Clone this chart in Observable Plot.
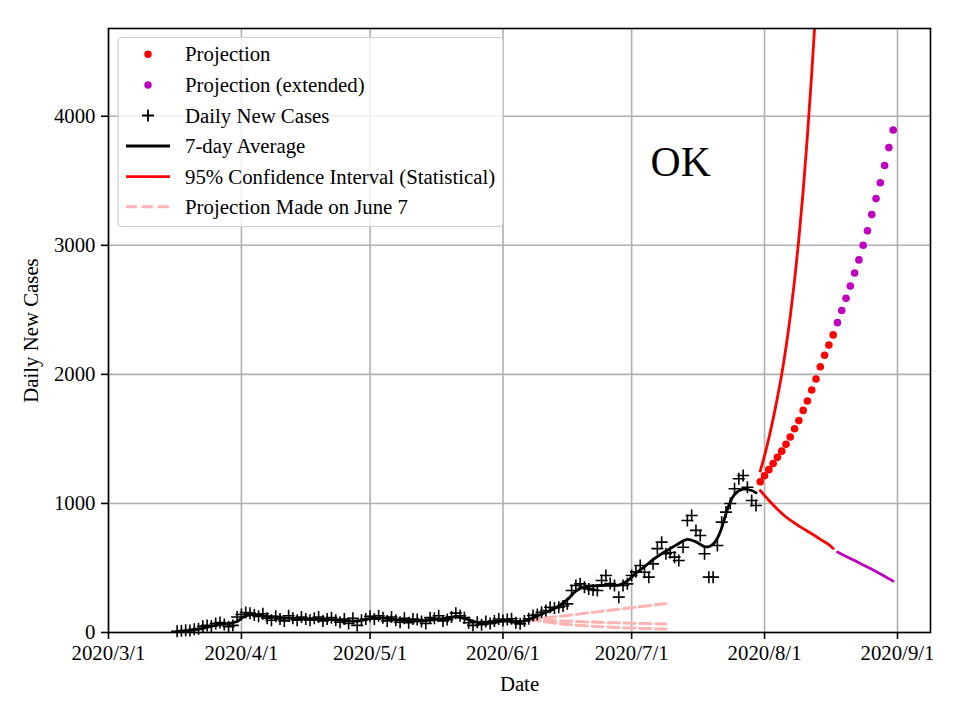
<!DOCTYPE html>
<html><head><meta charset="utf-8">
<script src="https://cdn.jsdelivr.net/npm/d3@7"></script>
<script src="https://cdn.jsdelivr.net/npm/@observablehq/plot@0.6"></script>
<style>body{margin:0;background:#fff} svg{display:block}</style>
</head><body><div id="chart"></div>
<script>
// ---- data ----
const dailyStart = "2020-03-17";
const dailyCases = [
  10,14,18,15,25,30,48,55,50,70,78,62,45,55,120,            // Mar 17 - Mar 31
  140,155,150,135,125,145,110,95,125,105,90,130,110,95,120,105,95,110,120,90,105,115,95,80,105,70,110,55,95,105, // Apr
  125,105,130,115,90,120,95,80,110,75,105,100,85,70,115,110,130,90,100,120,150,130,115,75,55,80,60,85,70,90,105, // May
  93,100,106,75,67,90,106,132,140,157,170,196,190,196,205,222,326,364,377,350,338,330,326,403,442,380,364,274,364,377, // Jun
  442,470,519,467,429,532,650,700,610,620,584,558,661,868,907,791,752,610,429,429,674,855,933,1000,1114,1191,1217,1126,1023,984 // Jul 1 - Jul 30
];
const avgDates = ["2020-03-17","2020-03-20","2020-03-23","2020-03-26","2020-03-29","2020-03-31","2020-04-01","2020-04-02","2020-04-04","2020-04-07","2020-04-10","2020-04-14","2020-04-18","2020-04-22","2020-04-25","2020-04-28","2020-05-01","2020-05-04","2020-05-07","2020-05-10","2020-05-13","2020-05-16","2020-05-19","2020-05-21","2020-05-23","2020-05-26","2020-05-29","2020-06-01","2020-06-04","2020-06-06","2020-06-08","2020-06-10","2020-06-13","2020-06-16","2020-06-18","2020-06-20","2020-06-22","2020-06-25","2020-06-28","2020-06-30","2020-07-02","2020-07-04","2020-07-06","2020-07-08","2020-07-10","2020-07-12","2020-07-14","2020-07-16","2020-07-18","2020-07-19","2020-07-20","2020-07-21","2020-07-22","2020-07-23","2020-07-24","2020-07-25","2020-07-27","2020-07-29","2020-07-30"];
const avgValues = [8,15,32,55,70,85,110,128,138,125,115,108,104,100,92,88,108,112,100,92,90,100,112,122,108,78,72,88,85,90,115,142,185,255,320,355,362,365,368,400,460,510,565,610,650,690,722,702,665,665,685,730,810,920,1010,1070,1110,1100,1082];

const projStart = "2020-07-31";
const projValues = [1168,1215,1262,1310,1357,1405,1458,1515,1579,1642,1721,1794,1879,1964,2059,2148,2227,2306];
const projExtStart = "2020-08-18";
const projExtValues = [2401,2495,2590,2685,2786,2887,3001,3112,3238,3362,3485,3618,3757,3893];

const ciUpperDates = ["2020-07-31","2020-08-01","2020-08-02","2020-08-03","2020-08-04","2020-08-05","2020-08-06","2020-08-07","2020-08-08","2020-08-09","2020-08-10","2020-08-11","2020-08-12","2020-08-13"];
const ciUpperValues = [1250,1370,1505,1655,1820,2000,2210,2450,2730,3050,3420,3850,4330,4870];
const ciLowerDates = ["2020-07-31","2020-08-02","2020-08-04","2020-08-06","2020-08-08","2020-08-10","2020-08-12","2020-08-14","2020-08-16","2020-08-17"];
const ciLowerValues = [1100,1025,955,895,848,805,765,722,680,650];
const ciLowerExtDates = ["2020-08-18","2020-08-22","2020-08-26","2020-08-31"];
const ciLowerExtValues = [623,557,490,398];

const june7Dates = ["2020-06-07","2020-06-16","2020-06-24","2020-07-01","2020-07-09"];
const june7Upper = [100,132,165,192,225];
const june7Mid   = [100,88,78,72,65];
const june7Lower = [100,62,45,35,27];

const xTicks = ["2020-03-01","2020-04-01","2020-05-01","2020-06-01","2020-07-01","2020-08-01","2020-09-01"];
const yTicks = [0,1000,2000,3000,4000];
const xDomain = ["2020-03-01T00:00Z","2020-09-08T16:48Z"];
const yDomain = [0,4680];
const annotation = [{date:"2020-07-05T10:00Z", value:3535, label:"OK"}];

const legendLabels = ["Projection","Projection (extended)","Daily New Cases","7-day Average","95% Confidence Interval (Statistical)","Projection Made on June 7"];

// ---- build tables ----
const D = s => new Date(s.length === 10 ? s + "T00:00Z" : s);
const addDays = (s, i) => new Date(D(s).getTime() + i * 864e5);
const daily = dailyCases.map((v, i) => ({date: addDays(dailyStart, i), value: v}));
const avg = avgDates.map((d, i) => ({date: D(d), value: avgValues[i]}));
const proj = projValues.map((v, i) => ({date: addDays(projStart, i), value: v}));
const projExt = projExtValues.map((v, i) => ({date: addDays(projExtStart, i), value: v}));
const ciUp = ciUpperDates.map((d, i) => ({date: D(d), value: ciUpperValues[i]}));
const ciLo = ciLowerDates.map((d, i) => ({date: D(d), value: ciLowerValues[i]}));
const ciLoExt = ciLowerExtDates.map((d, i) => ({date: D(d), value: ciLowerExtValues[i]}));
const j7 = [june7Upper, june7Mid, june7Lower].flatMap((arr, k) => arr.map((v, i) => ({date: D(june7Dates[i]), value: v, k})));
const ann = annotation.map(a => ({...a, date: D(a.date)}));

const RED = "#ff0000", MAG = "#bf00bf", PINK = "#ffb3b3";
const plusSymbol = {
  draw(ctx, size) {
    const r = Math.sqrt(size / Math.PI);
    ctx.moveTo(-r, 0); ctx.lineTo(r, 0);
    ctx.moveTo(0, -r); ctx.lineTo(0, r);
  }
};
const fmt = d => `${d.getUTCFullYear()}/${d.getUTCMonth() + 1}/${d.getUTCDate()}`;
const FONT = "Liberation Serif";

const chart = Plot.plot({
  width: 960, height: 720,
  marginLeft: 108, marginRight: 30, marginTop: 28, marginBottom: 88,
  style: {fontFamily: FONT, fontSize: "20.8px", background: "white", color: "black", overflow: "visible"},
  x: {type: "utc", domain: xDomain.map(D)},
  y: {domain: yDomain},
  marks: [
    Plot.gridX(xTicks.map(D), {stroke: "#b0b0b0", strokeOpacity: 1, strokeWidth: 1.6}),
    Plot.gridY(yTicks, {stroke: "#b0b0b0", strokeOpacity: 1, strokeWidth: 1.6}),
    Plot.line(j7, {x: "date", y: "value", z: "k", stroke: PINK, strokeWidth: 3, strokeDasharray: "11.1,4.8", curve: "catmull-rom"}),
    Plot.dot(daily, {x: "date", y: "value", symbol: plusSymbol, r: 6, fill: "none", stroke: "black", strokeWidth: 1.6}),
    Plot.line(avg, {x: "date", y: "value", stroke: "black", strokeWidth: 2.8, curve: "catmull-rom"}),
    Plot.line(ciUp, {x: "date", y: "value", stroke: RED, strokeWidth: 2.8, curve: "catmull-rom", clip: true}),
    Plot.line(ciLo, {x: "date", y: "value", stroke: RED, strokeWidth: 2.8, curve: "catmull-rom"}),
    Plot.line(ciLoExt, {x: "date", y: "value", stroke: MAG, strokeWidth: 2.8, curve: "catmull-rom"}),
    Plot.dot(proj, {x: "date", y: "value", r: 3.8, fill: RED, stroke: "none"}),
    Plot.dot(projExt, {x: "date", y: "value", r: 3.8, fill: MAG, stroke: "none"}),
    Plot.text(ann, {x: "date", y: "value", text: "label", fontSize: 41.7, textAnchor: "start", lineAnchor: "bottom", fill: "black"}),
    Plot.frame({stroke: "black", strokeWidth: 1.6}),
    Plot.axisX({ticks: xTicks.map(D), tickFormat: fmt, tickSize: 7, tickPadding: 6, strokeWidth: 1.6, label: null}),
    Plot.axisY({ticks: yTicks, tickFormat: d => String(d), tickSize: 7, tickPadding: 6, strokeWidth: 1.6, label: null}),
    Plot.text(["Date"], {frameAnchor: "bottom", dy: 52, lineAnchor: "middle", textAnchor: "middle", text: d => d, fill: "black"}),
    Plot.text(["Daily New Cases"], {frameAnchor: "left", dx: -77, rotate: -90, lineAnchor: "middle", textAnchor: "middle", text: d => d, fill: "black"})
  ]
});

// ---- legend (inside the axes, upper left) ----
const svg = d3.select(chart);
const lg = svg.append("g").attr("font-family", FONT).attr("font-size", "20.8px").attr("text-anchor", "start");
lg.append("rect").attr("x", 118).attr("y", 37.5).attr("width", 385).attr("height", 189).attr("rx", 4)
  .attr("fill", "white").attr("fill-opacity", 0.8).attr("stroke", "#cccccc").attr("stroke-width", 1.2);
const rowY = [54.3, 85, 115.5, 146, 176.7, 206.7];
legendLabels.forEach((t, i) => {
  const y = rowY[i];
  if (i === 0 || i === 1) {
    lg.append("circle").attr("cx", 148).attr("cy", y).attr("r", 3.7).attr("fill", i === 0 ? RED : MAG);
  } else if (i === 2) {
    lg.append("path").attr("d", `M142,${y}H154M148,${y-6}V${y+6}`).attr("stroke", "black").attr("stroke-width", 1.8);
  } else {
    const st = i === 3 ? "black" : i === 4 ? RED : PINK;
    const p = lg.append("line").attr("x1", 126).attr("x2", 170).attr("y1", y).attr("y2", y)
      .attr("stroke", st).attr("stroke-width", i === 5 ? 3 : 2.8);
    if (i === 5) p.attr("stroke-dasharray", "11.1,4.8");
  }
  lg.append("text").attr("x", 185).attr("y", y).attr("dy", "0.34em").attr("text-anchor", "start").attr("fill", "black").text(t);
});

document.getElementById("chart").appendChild(chart);
</script>
</body></html>
